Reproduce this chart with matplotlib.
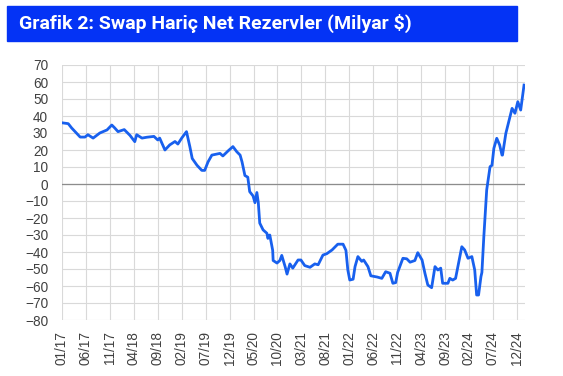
import matplotlib
matplotlib.use("Agg")
import matplotlib.pyplot as plt
from matplotlib.patches import Rectangle

title = "Grafik 2: Swap Hariç Net Rezervler (Milyar $)"

# months since Jan 2017
months = [0, 1.3, 2, 3.8, 4.8, 5.4, 6.5, 7.9, 9.4, 10.4, 11, 11.7, 13, 14.2, 15.2,
          15.6, 16.7, 17.7, 19.2, 20, 20.4, 21.5, 22.5, 23.6, 24.2, 25, 26, 26.3,
          26.7, 27.2, 28.2, 29.2, 29.8, 30.5, 31.3, 33, 33.6, 34.7, 35.7, 36.5,
          37.2, 37.6, 38.2, 38.8, 39.2, 39.9, 40.3, 40.7, 41, 41.3, 42, 42.8, 43,
          43.4, 44, 44.1, 44.9, 45.5, 45.9, 46.6, 47, 47.6, 48.2, 49.3, 49.9,
          50.7, 51.8, 52.8, 53.5, 54.5, 55.3, 56.4, 57.6, 58.7, 59.3, 59.7, 60.1,
          60.8, 61.2, 61.8, 62.6, 63, 63.9, 64.5, 65.8, 66.8, 67.6, 68.5, 69.1,
          69.7, 70.1, 71.2, 72, 72.7, 73.7, 74.3, 75.2, 75.8, 76.4, 77.2, 77.9,
          78.5, 79.1, 79.5, 80.6, 81, 81.6, 82.2, 83.5, 84.1, 84.8, 85.6, 86.2,
          86.6, 87, 87.5, 87.7, 88.1, 88.7, 89.4, 89.8, 90.2, 90.8, 91.4, 91.9,
          92, 92.7, 93.3, 94, 94.6, 95.2, 95.8, 96.5]
reserves = [36, 35.5, 33, 27.6, 27.6, 29, 27, 30, 31.8, 34.7, 33, 30.8, 32, 28.6, 24.9,
            29, 27, 27.5, 28, 25.9, 27, 20, 23, 25, 23.5, 27, 30.8, 27,
            22, 15, 11, 8, 8, 13, 17, 18, 16.5, 19.5, 22, 19,
            17, 13, 5, 4, -4.5, -7, -11, -5, -11, -23, -27, -29, -32,
            -30, -39, -45, -46.5, -45, -42, -48.6, -53, -47, -49.5, -44.7, -44.7,
            -48, -49, -47, -47.5, -41.8, -41, -38.8, -35.4, -35.4, -39, -50.6, -56.5,
            -56, -48.6, -42.7, -45.5, -44.7, -48.6, -54, -54.7, -55.5, -51.6, -52.5, -58.4,
            -58, -52, -43.7, -44, -46, -45, -40.4, -44.7, -52.5, -59.4, -61, -48.6,
            -50.6, -49.5, -58.4, -58.4, -55.5, -56.5, -55.5, -36.9, -38.8, -43.7, -42.7, -50.6,
            -65.3, -65.3, -54.5, -52, -31, -3.5, 10.2, 11, 21, 26.9, 23, 17,
            17, 29.8, 36.6, 44.5, 41.6, 48.4, 43.5, 58.2]

tick_labels = ["01/17", "06/17", "11/17", "04/18", "09/18", "02/19", "07/19",
               "12/19", "05/20", "10/20", "03/21", "08/21", "01/22", "06/22",
               "11/22", "04/23", "09/23", "02/24", "07/24", "12/24"]

fig = plt.figure(figsize=(5.63, 3.76), dpi=100)
fig.patches.append(Rectangle((7 / 563, 1 - 41 / 376), 510 / 563, 35 / 376,
                             transform=fig.transFigure, color="#0433f5", zorder=0))
fig.text(19 / 563, 1 - 23.5 / 376, title, color="white", fontsize=14,
         fontweight="bold", va="center", ha="left", family="Roboto")

ax = fig.add_axes([62 / 563, 1 - 320 / 376, 463 / 563, 255 / 376])
ax.plot(months, reserves, color="#1860ee", lw=2, zorder=3)

ax.set_ylim(-80, 70)
ax.set_yticks(range(-80, 71, 10))
ax.set_xlim(0, 96.7)
ax.set_xticks([5 * i for i in range(len(tick_labels))])
ax.set_xticklabels(tick_labels)
ax.grid(True, color="#d9d9d9", lw=0.8)
ax.axhline(0, color="#8c8c8c", lw=0.9, zorder=2)
for s in ax.spines.values():
    s.set_visible(False)
for lab in ax.get_xticklabels() + ax.get_yticklabels():
    lab.set_family("Liberation Sans")
ax.tick_params(length=0, labelsize=9.8, labelcolor="#404040")
ax.tick_params(axis="y", pad=10)
ax.tick_params(axis="x", pad=8, labelrotation=90)

fig.savefig("out.png", dpi=100)
